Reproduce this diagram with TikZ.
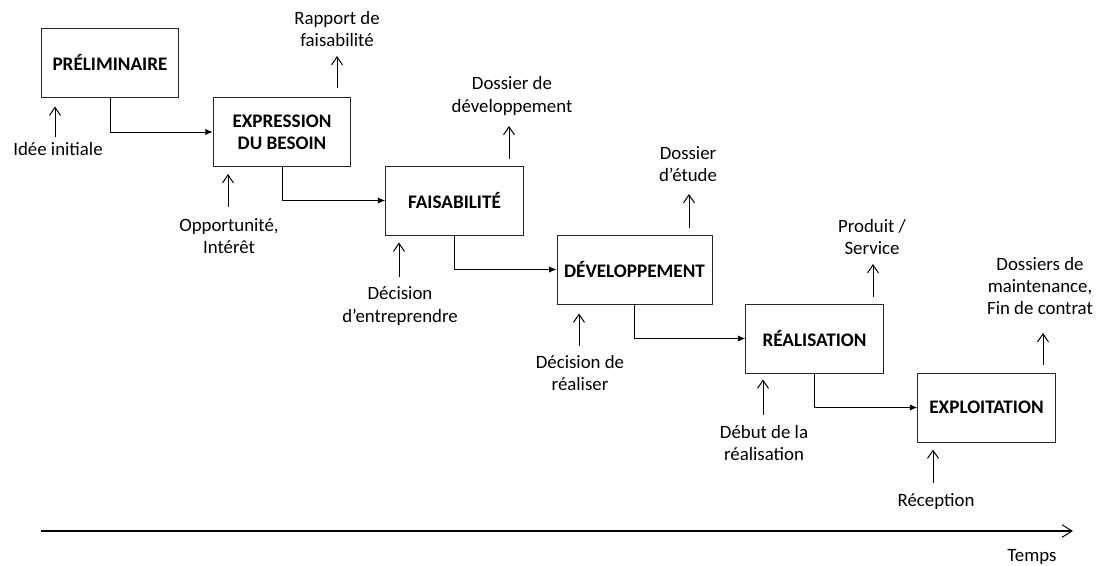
\documentclass[tikz,border=0pt]{standalone}
\usepackage{fontspec}
\setmainfont{Carlito}
\usetikzlibrary{arrows.meta}

\begin{document}
\begin{tikzpicture}[x=0.6pt, y=-0.6pt,
  font=\fontsize{11.3pt}{13.3pt}\selectfont,
  phase/.style={draw=black!85, line width=0.6pt, align=center,
    font=\fontsize{11.5pt}{13.3pt}\selectfont\bfseries,
    minimum width=82.5pt, minimum height=41.4pt, inner sep=0pt},
  lbl/.style={align=center, inner sep=0pt},
  flow/.style={line width=0.6pt, -{Latex[length=4.5pt, width=3.8pt]}},
  io/.style={line width=0.6pt, -{Straight Barb[length=4.8pt, width=6.6pt, line width=0.6pt]}}
]
\useasboundingbox (0,0) rectangle (1096,565);

% phases of the project
\node[phase] (prelim)  at (110,62.5)   {PRÉLIMINAIRE};
\node[phase] (expr)    at (282,132)    {EXPRESSION\\DU BESOIN};
\node[phase] (faisa)   at (454.5,200.5){FAISABILITÉ};
\node[phase, minimum width=93pt] (dev) at (634.5,269.5) {DÉVELOPPEMENT};
\node[phase] (real)    at (814.5,338.5){RÉALISATION};
\node[phase] (exploit) at (986.5,407.5){EXPLOITATION};

% sequence between phases
\draw[flow] (prelim.south) |- (expr.west);
\draw[flow] (expr.south)   |- (faisa.west);
\draw[flow] (faisa.south)  |- (dev.west);
\draw[flow] (dev.south)    |- (real.west);
\draw[flow] (real.south)   |- (exploit.west);

% deliverables (outputs)
\node[lbl] (outA) at (337,29)   {Rapport de\\faisabilité};
\node[lbl] (outB) at (512,96)   {Dossier de\\développement};
\node[lbl] (outC) at (688,164)  {Dossier\\d’étude};
\node[lbl] (outD) at (872,237)  {Produit /\\Service};
\node[lbl] (outE) at (1040,286) {Dossiers de\\maintenance,\\Fin de contrat};

\coordinate (tipA) at (337,56);
\coordinate (tipB) at (509,126);
\coordinate (tipC) at (689,194);
\coordinate (tipD) at (873,264);
\coordinate (tipE) at (1043,333);

\draw[io, shorten <=5.4pt] (expr.north -| tipA)  -- (tipA);
\draw[io, shorten <=4.2pt] (faisa.north -| tipB) -- (tipB);
\draw[io, shorten <=4.2pt] (dev.north -| tipC)   -- (tipC);
\draw[io, shorten <=4.2pt] (real.north -| tipD)  -- (tipD);
\draw[io, shorten <=4.5pt] (exploit.north -| tipE) -- (tipE);

% triggering events (inputs)
\node[lbl] (inA) at (58,149)  {Idée initiale};
\node[lbl] (inB) at (229,236) {Opportunité,\\Intérêt};
\node[lbl] (inC) at (400,306) {Décision\\d’entreprendre};
\node[lbl] (inD) at (580,373) {Décision de\\réaliser};
\node[lbl] (inE) at (764,443) {Début de la\\réalisation};
\node[lbl] (inF) at (936,501) {Réception};

\coordinate (tailA) at (55,137);
\coordinate (tailB) at (228,207);
\coordinate (tailC) at (399,277);
\coordinate (tailD) at (579,346);
\coordinate (tailE) at (763,415);
\coordinate (tailF) at (933,483);

\draw[io, shorten >=5.4pt] (tailA) -- (tailA |- prelim.south);
\draw[io, shorten >=4.2pt] (tailB) -- (tailB |- expr.south);
\draw[io, shorten >=4.2pt] (tailC) -- (tailC |- faisa.south);
\draw[io, shorten >=5.4pt] (tailD) -- (tailD |- dev.south);
\draw[io, shorten >=3.6pt] (tailE) -- (tailE |- real.south);
\draw[io, shorten >=4.2pt] (tailF) -- (tailF |- exploit.south);

% time axis
\coordinate (t0) at (41,531);
\coordinate (t1) at (1073,531);
\draw[line width=0.7pt, -{Straight Barb[length=6pt, width=7.5pt, line width=0.6pt]}] (t0) -- (t1);
\node[lbl] (temps) at (1032,557) {Temps};
\end{tikzpicture}
\end{document}
